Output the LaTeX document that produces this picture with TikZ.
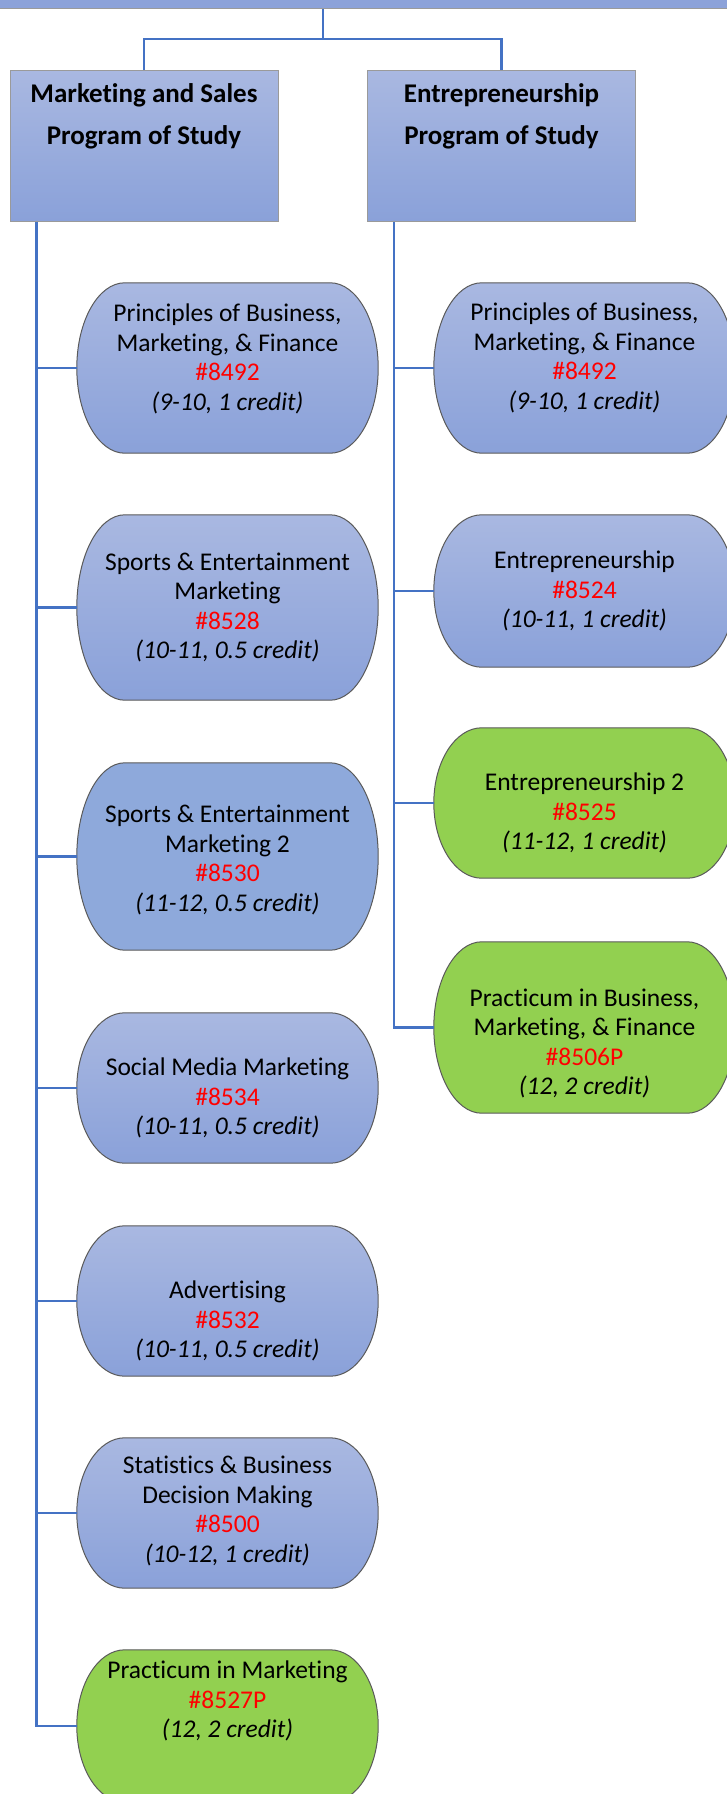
\documentclass[tikz,border=0pt]{standalone}
\usepackage{fontspec}
\setmainfont{Carlito}[Ligatures=NoCommon]
\usepackage{xcolor}
\usepackage{tikz}
\usetikzlibrary{calc,positioning}
\definecolor{linkblue}{HTML}{4472C4}
\definecolor{boxtop}{HTML}{A9B8E1}
\definecolor{boxbot}{HTML}{8AA1D9}
\definecolor{flatblue}{HTML}{8EA9DB}
\definecolor{lime}{HTML}{92D050}
\definecolor{edge}{HTML}{5A5A5A}
\definecolor{hedge}{HTML}{9A9A9A}
\definecolor{code}{HTML}{FF0000}
\tikzset{
  conn/.style={draw=linkblue, line width=2.6pt},
  head/.style={draw=hedge, line width=1pt, top color=boxtop, bottom color=boxbot,
    minimum width=268pt, minimum height=151pt, inner sep=0pt},
  slot/.style={minimum width=301pt, inner sep=0pt},
  blueshade/.style={draw=edge, line width=1pt, top color=boxtop, bottom color=boxbot},
  flatfill/.style={draw=edge, line width=1pt, fill=flatblue},
  greenfill/.style={draw=edge, line width=1pt, fill=lime},
  txt/.style={align=center, inner sep=0pt, font=\fontsize{25.5}{29.5}\selectfont},
  htxt/.style={align=center, inner sep=0pt, font=\bfseries\fontsize{27}{42}\selectfont},
}
\newcommand{\cnum}[1]{\textcolor{code}{\##1}}
\newcommand{\termbox}[2]{%
  \path[#2] let \p1=(#1.north west), \p2=(#1.south east), \n1={(\y1-\y2)/2} in
    (\x1+48pt,\y1) -- (\x2-48pt,\y1)
    arc[start angle=90, end angle=-90, x radius=48pt, y radius=\n1]
    -- (\x1+48pt,\y2)
    arc[start angle=270, end angle=90, x radius=48pt, y radius=\n1] -- cycle;}

\begin{document}
\begin{tikzpicture}[x=1pt, y=1pt]
  \useasboundingbox (0,0) rectangle (727,-1794);
  \clip (0,0) rectangle (727,-1794);
  \fill[white] (0,0) rectangle (727,-1794);

  \node[draw=hedge, line width=1pt, fill=boxbot!95!boxtop, minimum width=820pt,
    minimum height=16pt, inner sep=0pt] (top) at (323,0) {};
  \node[head] (mkt) at (144,-145.5) {};
  \node[head] (ent) at (501.5,-145.5) {};
  \node[htxt, below=14pt of mkt.north] (mktt) {Marketing and Sales\\Program of Study};
  \node[htxt, below=14pt of ent.north] (entt) {Entrepreneurship\\Program of Study};

  \foreach \cs/\cx/\cy/\ch/\cf in {ms1/227.5/368/170/blueshade, ms2/227.5/607.5/185/blueshade,
      ms3/227.5/856.5/187/flatfill, ms4/227.5/1088/150/blueshade,
      ms5/227.5/1301/150/blueshade, ms6/227.5/1513/150/blueshade,
      ms7/227.5/1726/152/greenfill, es1/584.5/368/170/blueshade,
      es2/584.5/591/152/blueshade, es3/584.5/803/150/greenfill,
      es4/584.5/1027.5/171/greenfill}{
    \node[slot, minimum height=\ch pt] (\cs) at (\cx,-\cy) {};
    \termbox{\cs}{\cf}
  }

  \node[txt] (ms1t) at ($(ms1)+(0,9)$) {Principles of Business,\\Marketing, \& Finance\\\cnum{8492}\\\textit{(9-10, 1 credit)}};
  \node[txt] (ms2t) at ($(ms2)+(0,0)$) {Sports \& Entertainment\\Marketing\\\cnum{8528}\\\textit{(10-11, 0.5 credit)}};
  \node[txt] (ms3t) at ($(ms3)+(0,-3.5)$) {Sports \& Entertainment\\Marketing 2\\\cnum{8530}\\\textit{(11-12, 0.5 credit)}};
  \node[txt] (ms4t) at ($(ms4)+(0,-10)$) {Social Media Marketing\\\cnum{8534}\\\textit{(10-11, 0.5 credit)}};
  \node[txt] (ms5t) at ($(ms5)+(0,-20)$) {Advertising\\\cnum{8532}\\\textit{(10-11, 0.5 credit)}};
  \node[txt] (ms6t) at ($(ms6)+(0,2)$) {Statistics \& Business\\Decision Making\\\cnum{8500}\\\textit{(10-12, 1 credit)}};
  \node[txt] (ms7t) at ($(ms7)+(0,25)$) {Practicum in Marketing\\\cnum{8527P}\\\textit{(12, 2 credit)}};
  \node[txt] (es1t) at ($(es1)+(0,10)$) {Principles of Business,\\Marketing, \& Finance\\\cnum{8492}\\\textit{(9-10, 1 credit)}};
  \node[txt] (es2t) at ($(es2)+(0,0)$) {Entrepreneurship\\\cnum{8524}\\\textit{(10-11, 1 credit)}};
  \node[txt] (es3t) at ($(es3)+(0,-10)$) {Entrepreneurship 2\\\cnum{8525}\\\textit{(11-12, 1 credit)}};
  \node[txt] (es4t) at ($(es4)+(0,-16)$) {Practicum in Business,\\Marketing, \& Finance\\\cnum{8506P}\\\textit{(12, 2 credit)}};

  \coordinate (split) at (323,-39);
  \coordinate (ltrunk) at ($(mkt.south west)+(27,0)$);
  \coordinate (rtrunk) at ($(ent.south west)+(27,0)$);
  \draw[conn] (top.south) -- (split);
  \draw[conn] (mkt.north) |- (split) -| (ent.north);
  \draw[conn] (ltrunk) |- (ms7.west);
  \draw[conn] (rtrunk) |- (es4.west);
  \foreach \cs in {ms1,ms2,ms3,ms4,ms5,ms6}
    \draw[conn] (\cs.west) -- (\cs.west -| ltrunk);
  \foreach \cs in {es1,es2,es3}
    \draw[conn] (\cs.west) -- (\cs.west -| rtrunk);
\end{tikzpicture}
\end{document}
